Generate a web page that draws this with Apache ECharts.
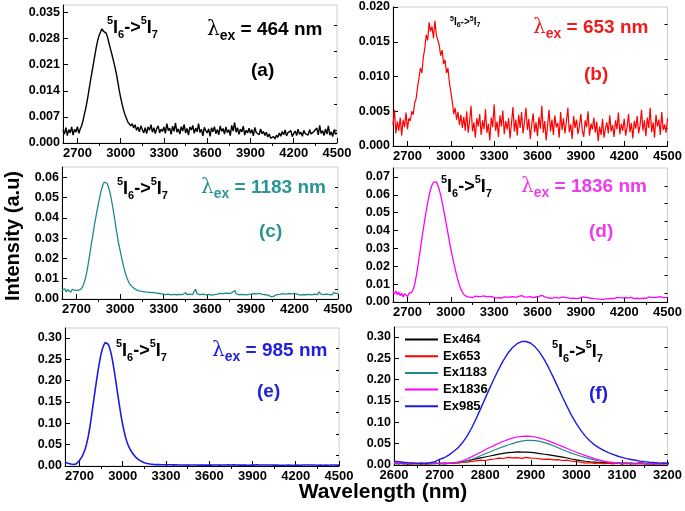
<!DOCTYPE html>
<html><head><meta charset="utf-8">
<script src="https://cdn.jsdelivr.net/npm/echarts@6/dist/echarts.min.js"></script>
<style>html,body{margin:0;padding:0;background:#fff}#c{width:685px;height:511px}</style>
</head><body><div id="c"></div>
<script>
// ---- data: emission intensity, 2600..4500 nm every 10 nm ----
const wlStart = 2600, wlStep = 10;
const ex464 = [
0.0035,0.0024,0.0041,0.0020,0.0036,0.0027,0.0043,0.0021,0.0037,0.0029,
0.0044,0.0026,0.0038,0.0047,0.0062,0.0080,0.0097,0.0118,0.0142,0.0166,
0.0188,0.0210,0.0233,0.0255,0.0274,0.0288,0.0297,0.0306,0.0300,0.0303,
0.0294,0.0282,0.0266,0.0251,0.0236,0.0220,0.0204,0.0186,0.0164,0.0141,
0.0121,0.0104,0.0088,0.0076,0.0066,0.0056,0.0061,0.0046,0.0052,0.0040,
0.0049,0.0034,0.0043,0.0030,0.0046,0.0036,0.0027,0.0041,0.0025,0.0043,
0.0034,0.0049,0.0029,0.0041,0.0025,0.0039,0.0046,0.0027,0.0037,0.0031,
0.0043,0.0026,0.0052,0.0033,0.0040,0.0023,0.0045,0.0031,0.0054,0.0029,
0.0038,0.0024,0.0044,0.0032,0.0050,0.0027,0.0039,0.0021,0.0043,0.0035,
0.0047,0.0026,0.0040,0.0030,0.0052,0.0028,0.0037,0.0019,0.0042,0.0033,
0.0027,0.0038,0.0018,0.0041,0.0030,0.0044,0.0025,0.0036,0.0022,0.0046,
0.0031,0.0039,0.0024,0.0043,0.0028,0.0035,0.0020,0.0047,0.0032,0.0055,
0.0029,0.0041,0.0023,0.0037,0.0030,0.0045,0.0021,0.0034,0.0027,0.0040,
0.0026,0.0036,0.0019,0.0042,0.0028,0.0033,0.0022,0.0038,0.0025,0.0031,
0.0020,0.0029,0.0016,0.0024,0.0013,0.0010,0.0017,0.0011,0.0021,0.0015,
0.0027,0.0018,0.0031,0.0022,0.0035,0.0019,0.0028,0.0024,0.0033,0.0017,
0.0026,0.0032,0.0020,0.0037,0.0023,0.0029,0.0018,0.0034,0.0025,0.0030,
0.0021,0.0036,0.0024,0.0019,0.0031,0.0027,0.0040,0.0022,0.0047,0.0026,
0.0033,0.0020,0.0038,0.0024,0.0046,0.0021,0.0030,0.0017,0.0036,0.0023,
0.0028];
const ex653 = [
0.0030,0.0052,0.0018,0.0035,0.0022,0.0041,0.0015,0.0038,0.0027,0.0048,
0.0024,0.0040,0.0036,0.0050,0.0045,0.0062,0.0068,0.0085,0.0098,0.0112,
0.0105,0.0128,0.0140,0.0160,0.0152,0.0178,0.0165,0.0172,0.0155,0.0180,
0.0160,0.0158,0.0145,0.0130,0.0138,0.0118,0.0124,0.0105,0.0112,0.0092,
0.0078,0.0065,0.0046,0.0055,0.0038,0.0049,0.0030,0.0045,0.0026,0.0042,
0.0022,0.0050,0.0019,0.0036,0.0058,0.0021,0.0034,0.0012,0.0040,0.0028,
0.0046,0.0016,0.0037,0.0024,0.0053,0.0019,0.0032,0.0008,0.0041,0.0027,
0.0060,0.0022,0.0035,0.0013,0.0044,0.0028,0.0051,0.0017,0.0036,0.0024,
0.0040,0.0011,0.0033,0.0056,0.0021,0.0038,0.0015,0.0045,0.0026,0.0049,
0.0018,0.0035,0.0055,0.0023,0.0039,0.0010,0.0031,0.0047,0.0020,0.0034,
0.0014,0.0042,0.0025,0.0058,0.0019,0.0036,0.0008,0.0030,0.0052,0.0021,
0.0038,0.0016,0.0044,0.0027,0.0033,0.0012,0.0049,0.0023,0.0040,0.0018,
0.0035,0.0055,0.0020,0.0031,0.0010,0.0043,0.0026,0.0038,0.0017,0.0029,
0.0046,0.0022,0.0013,0.0037,0.0027,0.0050,0.0015,0.0032,0.0024,0.0041,
0.0019,0.0035,0.0007,0.0028,0.0016,0.0039,0.0012,0.0025,0.0034,0.0018,
0.0044,0.0021,0.0030,0.0013,0.0037,0.0024,0.0048,0.0017,0.0032,0.0022,
0.0039,0.0015,0.0027,0.0046,0.0020,0.0033,0.0011,0.0036,0.0025,0.0043,
0.0018,0.0030,0.0052,0.0022,0.0037,0.0014,0.0041,0.0026,0.0055,0.0020,
0.0034,0.0012,0.0045,0.0028,0.0038,0.0016,0.0049,0.0023,0.0031,0.0019,
0.0040];
const ex1183 = [
0.0045,0.0038,0.0050,0.0035,0.0046,0.0040,0.0033,0.0047,0.0039,0.0044,
0.0036,0.0042,0.0040,0.0048,0.0058,0.0075,0.0098,0.0130,0.0170,0.0215,
0.0262,0.0305,0.0350,0.0392,0.0430,0.0468,0.0502,0.0535,0.0560,0.0575,
0.0578,0.0570,0.0552,0.0525,0.0490,0.0450,0.0405,0.0358,0.0315,0.0272,
0.0240,0.0205,0.0172,0.0143,0.0118,0.0098,0.0082,0.0070,0.0062,0.0056,
0.0050,0.0046,0.0042,0.0040,0.0036,0.0038,0.0033,0.0035,0.0031,0.0034,
0.0030,0.0032,0.0026,0.0031,0.0024,0.0029,0.0022,0.0027,0.0020,0.0025,
0.0028,0.0022,0.0030,0.0024,0.0027,0.0020,0.0029,0.0023,0.0026,0.0021,
0.0028,0.0023,0.0030,0.0022,0.0026,0.0031,0.0021,0.0027,0.0024,0.0029,
0.0022,0.0038,0.0048,0.0025,0.0030,0.0021,0.0027,0.0024,0.0031,0.0020,
0.0026,0.0023,0.0029,0.0019,0.0027,0.0022,0.0030,0.0024,0.0021,0.0028,
0.0023,0.0026,0.0020,0.0029,0.0022,0.0027,0.0024,0.0031,0.0036,0.0042,
0.0025,0.0029,0.0021,0.0027,0.0023,0.0030,0.0020,0.0026,0.0022,0.0028,
0.0024,0.0021,0.0027,0.0019,0.0025,0.0022,0.0028,0.0020,0.0023,0.0018,
0.0021,0.0016,0.0019,0.0013,0.0011,0.0009,0.0014,0.0018,0.0022,0.0017,
0.0023,0.0020,0.0026,0.0019,0.0024,0.0021,0.0027,0.0018,0.0025,0.0022,
0.0028,0.0020,0.0024,0.0030,0.0019,0.0025,0.0022,0.0027,0.0021,0.0029,
0.0023,0.0026,0.0020,0.0028,0.0024,0.0031,0.0022,0.0036,0.0025,0.0027,
0.0021,0.0029,0.0024,0.0033,0.0022,0.0027,0.0020,0.0031,0.0024,0.0026,
0.0030];
const ex1836 = [
0.0058,0.0045,0.0062,0.0040,0.0055,0.0035,0.0050,0.0028,0.0046,0.0052,
0.0030,0.0048,0.0042,0.0055,0.0070,0.0098,0.0140,0.0190,0.0245,0.0300,
0.0355,0.0410,0.0460,0.0510,0.0555,0.0595,0.0630,0.0655,0.0670,0.0678,
0.0672,0.0655,0.0630,0.0598,0.0560,0.0518,0.0475,0.0430,0.0385,0.0340,
0.0298,0.0258,0.0220,0.0185,0.0150,0.0120,0.0094,0.0072,0.0055,0.0042,
0.0036,0.0030,0.0034,0.0027,0.0031,0.0024,0.0029,0.0033,0.0026,0.0030,
0.0025,0.0031,0.0028,0.0034,0.0023,0.0029,0.0026,0.0032,0.0024,0.0028,
0.0030,0.0022,0.0027,0.0025,0.0031,0.0021,0.0026,0.0029,0.0023,0.0027,
0.0022,0.0028,0.0024,0.0030,0.0020,0.0026,0.0023,0.0032,0.0027,0.0036,
0.0025,0.0029,0.0021,0.0027,0.0023,0.0030,0.0019,0.0025,0.0022,0.0028,
0.0024,0.0031,0.0022,0.0037,0.0026,0.0029,0.0020,0.0025,0.0023,0.0021,
0.0027,0.0023,0.0032,0.0026,0.0029,0.0021,0.0025,0.0028,0.0022,0.0026,
0.0030,0.0023,0.0027,0.0020,0.0025,0.0022,0.0026,0.0019,0.0024,0.0021,
0.0025,0.0028,0.0022,0.0026,0.0020,0.0024,0.0027,0.0021,0.0023,0.0019,
0.0022,0.0018,0.0021,0.0016,0.0020,0.0015,0.0019,0.0017,0.0021,0.0018,
0.0024,0.0020,0.0023,0.0019,0.0022,0.0026,0.0020,0.0024,0.0018,0.0023,
0.0021,0.0025,0.0019,0.0023,0.0020,0.0026,0.0022,0.0019,0.0024,0.0021,
0.0025,0.0019,0.0023,0.0021,0.0027,0.0020,0.0024,0.0028,0.0022,0.0026,
0.0020,0.0024,0.0018,0.0027,0.0022,0.0030,0.0021,0.0025,0.0032,0.0024,
0.0028];
const ex985 = [
0.0088,0.0078,0.0066,0.0055,0.0045,0.0038,0.0034,0.0040,0.0055,0.0080,
0.0130,0.0170,0.0230,0.0310,0.0400,0.0520,0.0670,0.0860,0.1080,0.1320,
0.1560,0.1800,0.2030,0.2250,0.2450,0.2620,0.2750,0.2840,0.2890,0.2890,
0.2850,0.2760,0.2630,0.2460,0.2260,0.2040,0.1810,0.1580,0.1360,0.1150,
0.0970,0.0810,0.0670,0.0560,0.0470,0.0400,0.0340,0.0290,0.0250,0.0210,
0.0180,0.0150,0.0130,0.0110,0.0092,0.0078,0.0066,0.0057,0.0050,0.0045,
0.0041,0.0038,0.0036,0.0033,0.0030,0.0032,0.0028,0.0031,0.0027,0.0029,
0.0026,0.0030,0.0025,0.0028,0.0024,0.0027,0.0023,0.0026,0.0029,0.0024,
0.0027,0.0022,0.0026,0.0024,0.0028,0.0021,0.0025,0.0023,0.0027,0.0022,
0.0026,0.0024,0.0030,0.0021,0.0025,0.0023,0.0027,0.0020,0.0024,0.0022,
0.0025,0.0021,0.0026,0.0023,0.0029,0.0022,0.0024,0.0020,0.0025,0.0023,
0.0021,0.0025,0.0022,0.0026,0.0020,0.0024,0.0022,0.0027,0.0021,0.0023,
0.0025,0.0020,0.0024,0.0022,0.0026,0.0021,0.0023,0.0019,0.0024,0.0022,
0.0026,0.0021,0.0023,0.0028,0.0022,0.0025,0.0020,0.0024,0.0021,0.0023,
0.0020,0.0024,0.0019,0.0022,0.0018,0.0021,0.0017,0.0020,0.0023,0.0019,
0.0022,0.0018,0.0021,0.0019,0.0023,0.0020,0.0022,0.0017,0.0021,0.0019,
0.0023,0.0020,0.0022,0.0018,0.0021,0.0024,0.0019,0.0022,0.0020,0.0023,
0.0019,0.0022,0.0020,0.0024,0.0021,0.0018,0.0022,0.0020,0.0023,0.0019,
0.0022,0.0020,0.0024,0.0019,0.0021,0.0023,0.0020,0.0022,0.0019,0.0021,
0.0020];

// ---- tick labels ----
const xTicksWide = [2700, 3000, 3300, 3600, 3900, 4200, 4500];
const xTicksF = [2600, 2700, 2800, 2900, 3000, 3100, 3200];
const yTicksA = [0, 0.007, 0.014, 0.021, 0.028, 0.035];
const yTicksB = [0, 0.005, 0.010, 0.015, 0.020];
const yTicksC = [0, 0.01, 0.02, 0.03, 0.04, 0.05, 0.06];
const yTicksD = [0, 0.01, 0.02, 0.03, 0.04, 0.05, 0.06, 0.07];
const yTicksE = [0, 0.05, 0.10, 0.15, 0.20, 0.25, 0.30];
const legendNames = ['Ex464', 'Ex653', 'Ex1183', 'Ex1836', 'Ex985'];

const wl = ex464.map((_, i) => wlStart + wlStep * i);
const pairs = arr => arr.map((v, i) => [wl[i], v]);

const C = { k: '#000000', r: '#ff0000', t: '#1f8a8a', m: '#ff00ff', b: '#1c1ce0' };
const TXT = { k: '#000000', r: '#ee1c1c', t: '#2b9494', m: '#ee3bee', b: '#2020dd' };
const FONT = 'Liberation Sans, Arial, sans-serif';

function minors(ticks, lo, hi) {
  const out = [];
  const d = ticks[1] - ticks[0];
  const all = [ticks[0] - d].concat(ticks, [ticks[ticks.length - 1] + d]);
  for (let i = 0; i < all.length - 1; i++) {
    const m = (all[i] + all[i + 1]) / 2;
    if (m > lo + 1e-9 && m < hi - 1e-9) out.push(m);
  }
  return out;
}

const panels = [
  { grid: { left: 63, top: 5, width: 274, height: 138 }, xMin: 2600, xMax: 4500, xt: xTicksWide, yMax: 0.037, yt: yTicksA, dec: 3,
    series: [{ name: 'a', data: ex464, color: C.k, w: 1.4 }] },
  { grid: { left: 393, top: 7, width: 275, height: 139 }, xMin: 2600, xMax: 4500, xt: xTicksWide, yMax: 0.020, yt: yTicksB, dec: 3,
    series: [{ name: 'b', data: ex653, color: C.r, w: 1.2 }] },
  { grid: { left: 62, top: 167, width: 276, height: 132 }, xMin: 2600, xMax: 4500, xt: xTicksWide, yMax: 0.065, yt: yTicksC, dec: 2,
    series: [{ name: 'c', data: ex1183, color: C.t, w: 1.3 }] },
  { grid: { left: 393, top: 168, width: 275, height: 134 }, xMin: 2600, xMax: 4500, xt: xTicksWide, yMax: 0.075, yt: yTicksD, dec: 2,
    series: [{ name: 'd', data: ex1836, color: C.m, w: 1.3 }] },
  { grid: { left: 65, top: 328, width: 274, height: 138 }, xMin: 2600, xMax: 4500, xt: xTicksWide, yMax: 0.323, yt: yTicksE, dec: 2,
    series: [{ name: 'e', data: ex985, color: C.b, w: 1.6 }] },
  { grid: { left: 394, top: 327, width: 274, height: 138 }, xMin: 2600, xMax: 3200, xt: xTicksF, yMax: 0.323, yt: yTicksE, dec: 2,
    series: [
      { name: legendNames[0], data: ex464, color: C.k, w: 1.2 },
      { name: legendNames[1], data: ex653, color: C.r, w: 1.2 },
      { name: legendNames[2], data: ex1183, color: C.t, w: 1.2 },
      { name: legendNames[3], data: ex1836, color: C.m, w: 1.2 },
      { name: legendNames[4], data: ex985, color: C.b, w: 1.4 }
    ] }
];

const grids = [], xAxes = [], yAxes = [], series = [];
panels.forEach((p, gi) => {
  grids.push(Object.assign({ show: true, borderColor: '#cccccc', borderWidth: 1, backgroundColor: 'transparent' }, p.grid));
  const lblX = { fontSize: 13, fontWeight: 'bold', fontFamily: FONT, color: '#000', margin: 4, customValues: p.xt, formatter: v => String(v) };
  const lblY = { fontSize: 12.5, fontWeight: 'bold', fontFamily: FONT, color: '#000', margin: 3, customValues: p.yt, formatter: v => v.toFixed(p.dec) };
  xAxes.push({ type: 'value', gridIndex: gi, min: p.xMin, max: p.xMax, splitLine: { show: false },
    axisLine: { show: true, onZero: false, lineStyle: { color: '#000', width: 1 } },
    axisTick: { show: true, inside: true, length: 5, customValues: p.xt, lineStyle: { color: '#000' } },
    axisLabel: lblX });
  xAxes.push({ type: 'value', gridIndex: gi, min: p.xMin, max: p.xMax, splitLine: { show: false },
    axisLine: { show: false }, axisLabel: { show: false },
    axisTick: { show: true, inside: true, length: 3, customValues: minors(p.xt, p.xMin, p.xMax), lineStyle: { color: '#000' } } });
  yAxes.push({ type: 'value', gridIndex: gi, min: 0, max: p.yMax, splitLine: { show: false },
    axisLine: { show: true, onZero: false, lineStyle: { color: '#000', width: 1 } },
    axisTick: { show: true, inside: true, length: 5, customValues: p.yt, lineStyle: { color: '#000' } },
    axisLabel: lblY });
  yAxes.push({ type: 'value', gridIndex: gi, min: 0, max: p.yMax, splitLine: { show: false },
    axisLine: { show: false }, axisLabel: { show: false },
    axisTick: { show: true, inside: true, length: 3, customValues: minors(p.yt, 0, p.yMax), lineStyle: { color: '#000' } } });
  p.series.forEach(s => {
    series.push({ type: 'line', name: s.name, xAxisIndex: 2 * gi, yAxisIndex: 2 * gi, data: pairs(s.data),
      showSymbol: false, symbol: 'none', clip: true, color: s.color,
      lineStyle: { color: s.color, width: s.w }, z: 3 });
  });
});

function trans(x, y, size, sub) {
  return { type: 'text', x: x, y: y, z: 10,
    style: { text: '{s|5}{m|I}{u|6}{m|->}{s|5}{m|I}{u|7}', verticalAlign: 'middle', align: 'left',
      rich: {
        m: { fontSize: size, fontWeight: 'bold', fontFamily: FONT, fill: '#000', lineHeight: size * 1.35, verticalAlign: 'middle' },
        s: { fontSize: sub, fontWeight: 'bold', fontFamily: FONT, fill: '#000', lineHeight: sub, verticalAlign: 'top' },
        u: { fontSize: sub, fontWeight: 'bold', fontFamily: FONT, fill: '#000', lineHeight: sub, verticalAlign: 'bottom' }
      } } };
}
function lam(x, y, txt, col) {
  return { type: 'text', x: x, y: y, z: 10,
    style: { text: '{l|λ}{e|ex}{t| = ' + txt + '}', verticalAlign: 'middle', align: 'left',
      rich: {
        l: { fontSize: 20, fontFamily: 'DejaVu Serif, serif', fill: col, lineHeight: 26, verticalAlign: 'middle' },
        e: { fontSize: 14, fontWeight: 'bold', fontFamily: FONT, fill: col, lineHeight: 14, verticalAlign: 'bottom' },
        t: { fontSize: 19, fontWeight: 'bold', fontFamily: FONT, fill: col, lineHeight: 26, verticalAlign: 'middle' }
      } } };
}
function tag(x, y, txt, col) {
  return { type: 'text', x: x, y: y, z: 10,
    style: { text: txt, fontSize: 19, fontWeight: 'bold', fontFamily: FONT, fill: col, verticalAlign: 'middle', align: 'left' } };
}

const graphics = [
  trans(107, 28, 18, 11), lam(207, 30, '464 nm', TXT.k), tag(251, 71, '(a)', TXT.k),
  trans(450, 22, 10, 7), lam(533, 28, '653 nm', TXT.r), tag(584, 75, '(b)', TXT.r),
  trans(117, 189, 18, 11), lam(201, 188, '1183 nm', TXT.t), tag(259, 232, '(c)', TXT.t),
  trans(441, 187, 18, 11), lam(521, 187, '1836 nm', TXT.m), tag(589, 232, '(d)', TXT.m),
  trans(116, 351, 18, 11), lam(212, 351, '985 nm', TXT.b), tag(257, 392, '(e)', TXT.b),
  trans(552, 352, 18, 11), tag(589, 394, '(f)', TXT.b),
  { type: 'text', x: 13, y: 236, rotation: Math.PI / 2, z: 10,
    style: { text: 'Intensity (a.u)', fontSize: 20, fontWeight: 'bold', fontFamily: FONT, fill: '#000', align: 'center', verticalAlign: 'middle' } },
  { type: 'text', x: 383, y: 492, z: 10,
    style: { text: 'Wavelength (nm)', fontSize: 21, fontWeight: 'bold', fontFamily: FONT, fill: '#000', align: 'center', verticalAlign: 'middle' } }
];

const chart = echarts.init(document.getElementById('c'), null, { renderer: 'canvas' });
chart.setOption({
  animation: false,
  backgroundColor: '#fff',
  grid: grids, xAxis: xAxes, yAxis: yAxes, series: series,
  legend: { data: legendNames, orient: 'vertical', left: 400, top: 328, icon: 'rect', itemWidth: 33, itemHeight: 2,
    itemGap: 3.7, selectedMode: false,
    textStyle: { fontSize: 13, fontWeight: 'bold', fontFamily: FONT, color: '#000' } },
  graphic: graphics
});
</script></body></html>
